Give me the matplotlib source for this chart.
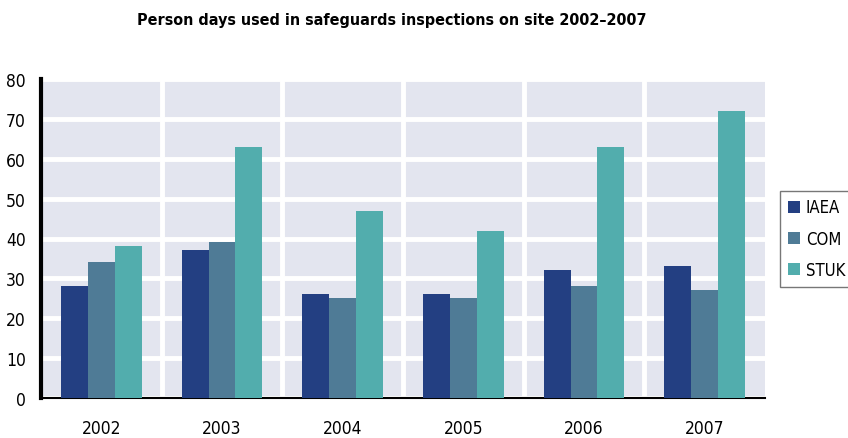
import numpy as np
import matplotlib
matplotlib.use("Agg")
import matplotlib.pyplot as plt

plt.rcParams['font.family'] = ['DejaVu Sans']
plt.rcParams['font.stretch'] = 'condensed'

years = ['2002', '2003', '2004', '2005', '2006', '2007']
iaea = [28, 37, 26, 26, 32, 33]
com = [34, 39, 25, 25, 28, 27]
stuk = [38, 63, 47, 42, 63, 72]

series = [('IAEA', iaea, '#233f82'), ('COM', com, '#4f7b96'), ('STUK', stuk, '#52adad')]

fig = plt.figure(figsize=(8.48, 4.39), dpi=100)
ax = fig.add_axes([41/848, 40/439, 724/848, 319/439])
ax.set_facecolor('#e3e5ef')

x = np.arange(len(years))
w = 0.223
for i, (name, vals, col) in enumerate(series):
    ax.bar(x + (i - 1) * w, vals, w, color=col, label=name, zorder=3)

ax.set_xlim(-0.5, len(years) - 0.5)
ax.set_ylim(0, 80)
ax.set_yticks(range(0, 81, 10))
ax.set_xticks(x)
ax.set_xticklabels(years)
ax.set_xticks(np.arange(0.5, len(years) - 0.5), minor=True)
ax.grid(axis='y', which='major', color='white', linewidth=3.5, zorder=1)
ax.grid(axis='x', which='minor', color='white', linewidth=3.5, zorder=1)
ax.tick_params(axis='both', which='both', length=0, labelsize=12.5)
ax.tick_params(axis='x', pad=15)
ax.tick_params(axis='y', pad=11)

for s in ['top', 'right']:
    ax.spines[s].set_visible(False)
ax.spines['left'].set_linewidth(3)
ax.spines['bottom'].set_linewidth(1.5)

fig.text(392/848, 1 - 20/439, 'Person days used in safeguards inspections on site 2002\u20132007',
         ha='center', va='center', fontsize=11.5, fontweight='bold')

leg = fig.legend(loc='upper left', bbox_to_anchor=(780/848, 1 - 192/439), fontsize=12,
                 frameon=True, fancybox=False, edgecolor='#555555', handlelength=0.75,
                 handleheight=0.75, handletextpad=0.35, labelspacing=0.8, borderpad=0.45,
                 borderaxespad=0)
leg.get_frame().set_linewidth(1)

fig.savefig('out.png', dpi=100)
